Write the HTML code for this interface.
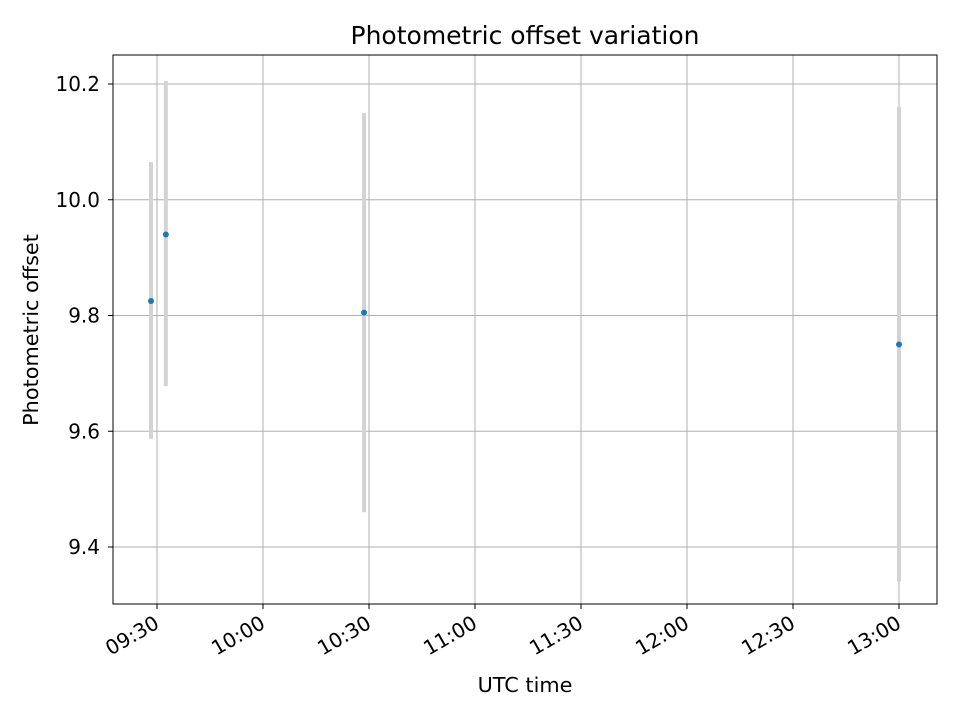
<!DOCTYPE html>
<html><head><meta charset="utf-8"><style>
body{margin:0;background:#fff;}
svg text{font-family:"DejaVu Sans","Liberation Sans",sans-serif;fill:#000;}
</style></head><body>
<svg id="chart" width="960" height="720" xmlns="http://www.w3.org/2000/svg">
<rect width="960" height="720" fill="#fff"/>
<text x="525" y="44" font-size="25" text-anchor="middle">Photometric offset variation</text>
<text x="525" y="692" font-size="20.8" text-anchor="middle">UTC time</text>
<text transform="translate(38,330) rotate(-90)" font-size="20.8" text-anchor="middle">Photometric offset</text>
<g id="grid"></g><g id="marks"></g><g id="axes"></g>
</svg>
<script>
// minutes since 09:00
const times = [28.3, 32.5, 88.6, 240];
const values = [9.825, 9.94, 9.805, 9.75];
const errLow = [9.587, 9.678, 9.46, 9.34];
const errHigh = [10.065, 10.205, 10.15, 10.16];
const xTicks = [30, 60, 90, 120, 150, 180, 210, 240];
const xTickLabels = ["09:30","10:00","10:30","11:00","11:30","12:00","12:30","13:00"];
const yTicks = [9.4, 9.6, 9.8, 10.0, 10.2];
const yTickLabels = ["9.4","9.6","9.8","10.0","10.2"];

const L=113,R=937,T=55,B=604;
const xs = m => 157 + (m-30)*106/30;
const ys = v => 84 + (10.2-v)*578.75;
const NS="http://www.w3.org/2000/svg";
function mk(tag, attrs, parent){const e=document.createElementNS(NS,tag);for(const k in attrs)e.setAttribute(k,attrs[k]);document.getElementById(parent).appendChild(e);return e;}

xTicks.forEach((t,i)=>{
  const x=xs(t);
  const g=mk('line',{x1:x,x2:x,y1:T,y2:B,stroke:'#b0b0b0','stroke-width':1},'grid');
  
  
  const tk=mk('line',{x1:x,x2:x,y1:B,y2:B+5,stroke:'#000','stroke-width':1},'axes');
  
  
  const tx=mk('text',{x:0,y:15,'font-size':20,'text-anchor':'end',transform:`translate(${x-4},${B+10}) rotate(-30)`},'axes');
  tx.textContent=xTickLabels[i];
  
  
});
yTicks.forEach((t,i)=>{
  const y=ys(t);
  const g=mk('line',{x1:L,x2:R,y1:y,y2:y,stroke:'#b0b0b0','stroke-width':1},'grid');
  
  
  const tk=mk('line',{x1:L-5,x2:L,y1:y,y2:y,stroke:'#000','stroke-width':1},'axes');
  
  
  const tx=mk('text',{x:L-13,y:y+7,'font-size':20,'text-anchor':'end'},'axes');
  tx.textContent=yTickLabels[i];
  
  
});
const frame=mk('rect',{x:L,y:T,width:R-L,height:B-T,fill:'none',stroke:'#000','stroke-width':1},'axes');



times.forEach((t,i)=>{
  const x=xs(t);
  const eb=mk('line',{x1:x,x2:x,y1:ys(errHigh[i]),y2:ys(errLow[i]),stroke:'#d3d3d3','stroke-width':4},'marks');
  
  
});
times.forEach((t,i)=>{
  const c=mk('circle',{cx:xs(t),cy:ys(values[i]),r:3,fill:'#1f77b4'},'marks');
  
  
});
</script>
</body></html>
